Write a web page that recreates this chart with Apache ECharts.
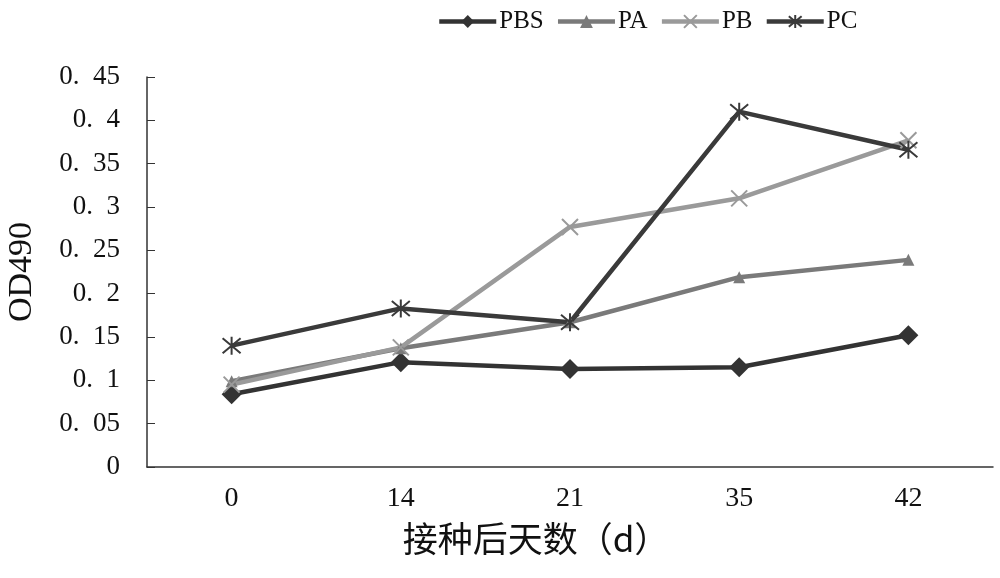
<!DOCTYPE html>
<html>
<head>
<meta charset="utf-8">
<script src="https://cdn.jsdelivr.net/npm/echarts@6/dist/echarts.min.js"></script>
<style>
  html, body { margin: 0; padding: 0; background: #fff; }
  #chart { width: 1000px; height: 578px; }
</style>
</head>
<body>
<div id="chart"></div>
<script>
var days = ['0', '14', '21', '35', '42'];
var pbs = [0.084, 0.121, 0.113, 0.115, 0.152];
var pa = [0.099, 0.137, 0.167, 0.219, 0.239];
var pb = [0.095, 0.138, 0.277, 0.310, 0.377];
var pc = [0.140, 0.183, 0.167, 0.410, 0.366];

var xMark = 'path://M0,0L10,10M10,0L0,10';
var starMark = 'path://M0,0L10,10M10,0L0,10M5,-1L5,11';

var serif = '"Liberation Serif", "DejaVu Serif", serif';

function line(name, data, color, symbol, size) {
    return {
        name: name,
        type: 'line',
        data: data,
        symbol: symbol,
        symbolSize: size,
        showSymbol: true,
        lineStyle: { color: color, width: 4.5 },
        itemStyle: { color: color, borderColor: color, borderWidth: symbol.indexOf('path') === 0 ? 2 : 0 },
        emphasis: { disabled: true }
    };
}

var chart = echarts.init(document.getElementById('chart'));
chart.setOption({
    animation: false,
    backgroundColor: '#fff',
    legend: {
        top: 4,
        left: 432,
        itemWidth: 57,
        itemHeight: 16,
        itemGap: 12,
        lineStyle: { width: 4.5 },
        textStyle: { fontFamily: serif, fontSize: 25, color: '#111', padding: [0, 0, 0, -2] },
        data: ['PBS', 'PA', 'PB', 'PC']
    },
    grid: { left: 147, right: 7, top: 77, bottom: 111, containLabel: false, outerBoundsMode: 'none' },
    xAxis: {
        type: 'category',
        data: days,
        boundaryGap: true,
        name: '接种后天数（d）',
        nameLocation: 'middle',
        nameGap: 54,
        nameTextStyle: { fontFamily: '"Noto Sans CJK SC", ' + serif, fontSize: 35, color: '#111', padding: [0, 68, 0, 0] },
        axisLine: { lineStyle: { color: '#333', width: 1.5 } },
        axisTick: { inside: true, length: 8, lineStyle: { color: '#333' } },
        axisLabel: { fontFamily: serif, fontSize: 28, color: '#111', margin: 18 }
    },
    yAxis: {
        type: 'value',
        min: 0,
        max: 0.45,
        interval: 0.05,
        name: 'OD490',
        nameLocation: 'middle',
        nameRotate: 90,
        nameGap: 108,
        nameTextStyle: { fontFamily: serif, fontSize: 34, color: '#111' },
        axisLine: { show: true, lineStyle: { color: '#333', width: 1.5 } },
        axisTick: { show: true, inside: true, length: 8, lineStyle: { color: '#333' } },
        splitLine: { show: false },
        axisLabel: {
            fontFamily: serif, fontSize: 27, color: '#111', margin: 27,
            formatter: function (v) {
                if (v === 0) return '0';
                var s = String(Math.round(v * 100) / 100);
                return s.replace('.', '.\u2002');
            }
        }
    },
    series: [
        line('PBS', pbs, '#333333', 'diamond', 20),
        line('PA', pa, '#7a7a7a', 'triangle', 12),
        line('PB', pb, '#9a9a9a', xMark, 16),
        line('PC', pc, '#3a3a3a', starMark, 18)
    ]
});
</script>
</body>
</html>
